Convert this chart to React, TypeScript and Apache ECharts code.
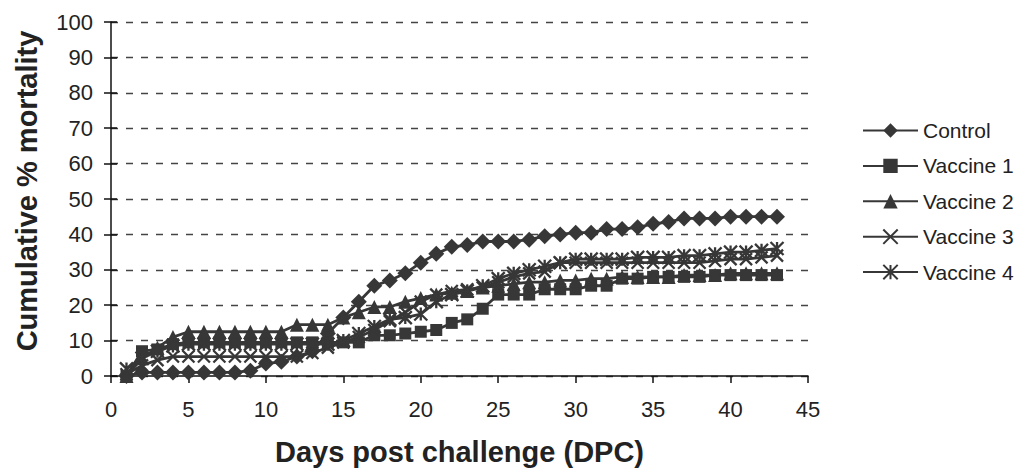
import React, { useEffect, useRef } from "react";
import * as echarts from "echarts";

const days = [1, 2, 3, 4, 5, 6, 7, 8, 9, 10, 11, 12, 13, 14, 15, 16, 17, 18, 19, 20, 21, 22, 23, 24, 25, 26, 27, 28, 29, 30, 31, 32, 33, 34, 35, 36, 37, 38, 39, 40, 41, 42, 43];

const control = [0, 1, 1, 1, 1, 1, 1, 1, 1.5, 3.5, 4, 5.5, 7, 12, 16.5, 21, 25.5, 27, 29, 32, 34.5, 36.5, 37, 38, 38, 38, 38.5, 39.5, 40, 40.5, 40.5, 41.5, 41.5, 42, 43, 43.5, 44.5, 44.5, 44.5, 45, 45, 45, 45];
const vaccine1 = [0, 7, 7.5, 9, 9.5, 9.5, 9.5, 9.5, 9.5, 9.5, 9.5, 9.5, 9.5, 9.5, 9.5, 9.5, 11.5, 11.5, 12, 12.5, 13, 15, 16, 19, 23, 23, 23, 24.5, 24.5, 24.5, 25.5, 25.5, 27.5, 27.5, 28, 28, 28, 28, 28.5, 28.5, 28.5, 28.5, 28.5];
const vaccine2 = [0, 5, 8, 11, 12.5, 12.5, 12.5, 12.5, 12.5, 12.5, 12.5, 14.5, 14.5, 14.5, 16.5, 18, 19.5, 19.5, 21, 22, 23, 23.5, 24, 25, 25.5, 26, 26.5, 26.5, 27, 27, 27.5, 27.5, 28, 28, 28, 28, 28.5, 28.5, 28.5, 29, 29, 29, 29];
const vaccine3 = [0.5, 3, 4.5, 5.5, 5.5, 5.5, 5.5, 5.5, 5.5, 5.5, 5.5, 5.5, 6.5, 8, 9.5, 11, 13, 15.5, 18, 21, 23, 24, 24.5, 25, 26.5, 28, 29, 29.5, 32, 32, 32, 32, 32, 32, 32, 32, 32, 32, 32.5, 33, 33, 33.5, 34];
const vaccine4 = [2, 5, 7, 8.5, 9, 9, 9, 9, 9, 9, 9, 9, 9, 9, 10, 12, 14, 16, 16.5, 17.5, 21, 23, 24, 25.5, 27.5, 29, 30, 31, 32, 33, 33, 33, 33, 33.5, 33.5, 33.5, 34, 34, 34.5, 35, 35, 35.5, 36];

const seriesNames = ["Control", "Vaccine 1", "Vaccine 2", "Vaccine 3", "Vaccine 4"];

const DARK = "#373737";
const TEXT = "#222222";
const FONT = '"Liberation Sans", Arial, Helvetica, sans-serif';

const SYM_X = "path://M0,0L10,10M10,0L0,10";
const SYM_AST = "path://M0,0L10,10M10,0L0,10M5,0L5,10";

export default function App() {
  const ref = useRef<HTMLDivElement>(null);

  useEffect(() => {
    const chart = echarts.init(ref.current!, undefined, { renderer: "svg" });

    const mk = (name: string, values: number[], symbol: string, size: number, stroked: boolean) => ({
      type: "line",
      name,
      xAxisIndex: 0,
      yAxisIndex: 0,
      data: days.map((d, i) => [d, values[i]]),
      symbol,
      symbolSize: size,
      showAllSymbol: true,
      lineStyle: { color: DARK, width: 2.8 },
      itemStyle: stroked
        ? { color: DARK, borderColor: DARK, borderWidth: 2.3 }
        : { color: DARK, borderWidth: 0 },
      emphasis: { disabled: true },
      silent: true,
    });

    const yBase = {
      type: "value",
      min: 0,
      max: 100,
      interval: 10,
      position: "left",
      offset: 0,
    };

    const option = {
      animation: false,
      backgroundColor: "#ffffff",
      textStyle: { fontFamily: FONT },
      grid: { left: 111, right: 217, top: 22, bottom: 97, containLabel: false },
      legend: {
        orient: "vertical",
        left: 857,
        top: 115,
        itemWidth: 55,
        itemHeight: 18,
        itemGap: 14.4,
        textStyle: { fontSize: 21, lineHeight: 21, color: TEXT, fontFamily: FONT },
        data: seriesNames,
      },
      xAxis: {
        type: "value",
        min: 0,
        max: 45,
        interval: 5,
        name: "Days post challenge (DPC)",
        nameLocation: "middle",
        nameGap: 61,
        nameTextStyle: { fontSize: 29, fontWeight: "bold", color: TEXT, fontFamily: FONT },
        axisLine: { show: true, lineStyle: { color: "#111", width: 1.5 } },
        axisTick: { show: true, inside: false, length: 7, lineStyle: { color: "#111", width: 1.5 } },
        axisLabel: { fontSize: 22, color: TEXT, margin: 22, fontFamily: FONT },
        splitLine: { show: false },
      },
      yAxis: [
        {
          ...yBase,
          name: "Cumulative % mortality",
          nameLocation: "middle",
          nameGap: 70,
          nameTextStyle: { fontSize: 29, fontWeight: "bold", color: TEXT, fontFamily: FONT, padding: [0, 0, 0, 16] },
          axisLine: { show: true, lineStyle: { color: "#111", width: 1.5 } },
          axisTick: { show: true, inside: false, length: 7, lineStyle: { color: "#111", width: 1.5 } },
          axisLabel: { fontSize: 22, color: TEXT, margin: 18, fontFamily: FONT },
          splitLine: { show: true, lineStyle: { color: "#444", width: 1.4, type: [7, 8] } },
        },
        {
          ...yBase,
          axisLine: { show: false },
          axisTick: { show: true, inside: true, length: 6, lineStyle: { color: "#111", width: 1.5 } },
          axisLabel: { show: false },
          splitLine: { show: false },
        },
      ],
      series: [
        mk(seriesNames[0], control, "diamond", 16, false),
        mk(seriesNames[1], vaccine1, "rect", 12, false),
        mk(seriesNames[2], vaccine2, "triangle", 14, false),
        mk(seriesNames[3], vaccine3, SYM_X, 12, true),
        mk(seriesNames[4], vaccine4, SYM_AST, 13, true),
      ],
    };

    chart.setOption(option as any);
    return () => chart.dispose();
  }, []);

  return (
    <div
      ref={ref}
      style={{ position: "absolute", left: 0, top: 0, width: 1025, height: 473, background: "#fff" }}
    />
  );
}
